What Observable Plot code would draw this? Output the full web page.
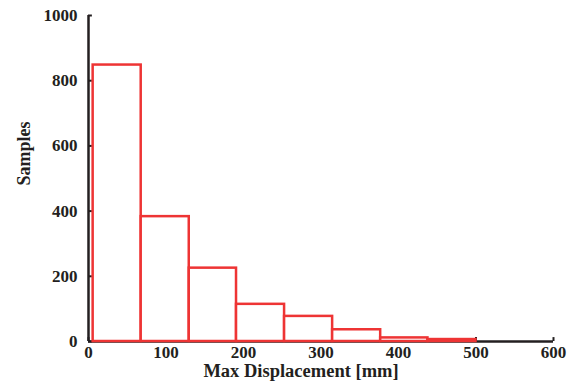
<!DOCTYPE html>
<html>
<head>
<meta charset="utf-8">
<script src="https://cdn.jsdelivr.net/npm/d3@7"></script>
<script src="https://cdn.jsdelivr.net/npm/@observablehq/plot@0.6"></script>
<style>
  body { margin: 0; background: #fff; }
  #chart svg { display: block; }
</style>
</head>
<body>
<div id="chart"></div>
<script>
// Histogram of maximum displacement: bin edges (mm) and sample counts per bin
const binEdges = [6, 68, 130, 191, 253, 315, 377, 438, 500];
const sampleCounts = [848, 383, 225, 114, 77, 36, 11, 6];
const xTicks = [0, 100, 200, 300, 400, 500, 600];
const yTicks = [0, 200, 400, 600, 800, 1000];
const xTitle = "Max Displacement [mm]";
const yTitle = "Samples";

const bins = sampleCounts.map((count, i) => ({
  x1: binEdges[i],
  x2: binEdges[i + 1],
  count
}));

const ink = "#231f20";
const red = "#ee3434";
const font = "'Liberation Serif', 'DejaVu Serif', serif";

const chart = Plot.plot({
  width: 571,
  height: 385,
  marginLeft: 88,
  marginRight: 18,
  marginTop: 15,
  marginBottom: 44,
  style: { fontFamily: font, fontSize: "17px", fontWeight: "bold", color: ink, background: "#fff" },
  x: { domain: [0, 600] },
  y: { domain: [0, 1000] },
  marks: [
    // axis lines and inward ticks
    Plot.ruleX([0], { y1: 0, y2: 1000, stroke: ink, strokeWidth: 2.5 }),
    Plot.ruleY([0], { x1: 0, x2: 600, stroke: ink, strokeWidth: 2.5 }),
    Plot.ruleY(yTicks, { y: d => d, x1: 0, x2: 5, stroke: ink, strokeWidth: 2 }),
    Plot.ruleX(xTicks, { x: d => d, y1: 0, y2: 12, stroke: ink, strokeWidth: 2 }),
    Plot.axisY({ ticks: yTicks, tickFormat: d => String(d), tickSize: 0, tickPadding: 11, label: null, fontSize: 17 }),
    Plot.axisX({ ticks: xTicks, tickFormat: d => String(d), tickSize: 0, tickPadding: 4, label: null, fontSize: 17 }),
    // histogram bars
    Plot.rectY(bins, { x1: "x1", x2: "x2", y: "count", fill: "white", stroke: red, strokeWidth: 2.5 }),
    // axis titles
    Plot.text([xTitle], { frameAnchor: "bottom", dx: -20, dy: 35, fontSize: 18.5, fontWeight: "bold", fill: ink }),
    Plot.text([yTitle], { frameAnchor: "left", rotate: -90, dx: -64, dy: 7, fontSize: 18, fontWeight: "bold", fill: ink })
  ]
});

document.getElementById("chart").appendChild(chart);
</script>
</body>
</html>
